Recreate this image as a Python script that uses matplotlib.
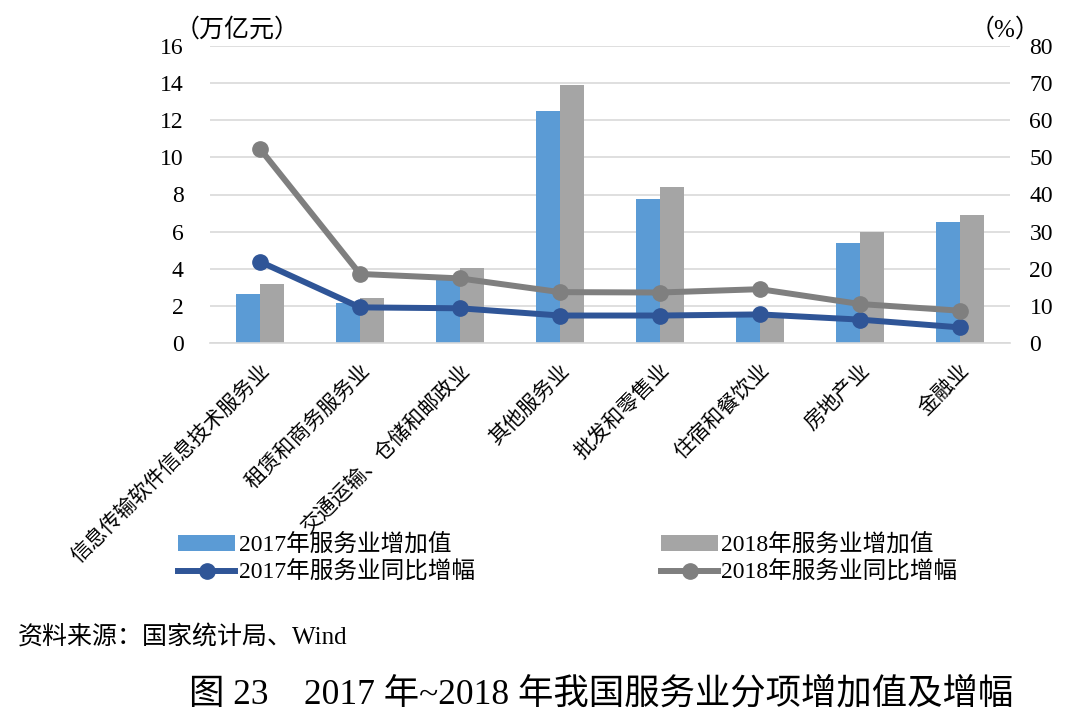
import numpy as np
import matplotlib.pyplot as plt

plt.rcParams['font.family'] = ['Liberation Serif', 'Noto Sans CJK SC']

categories = ['信息传输软件信息技术服务业', '租赁和商务服务业', '交通运输、仓储和邮政业',
              '其他服务业', '批发和零售业', '住宿和餐饮业', '房地产业', '金融业']
value_2017 = [2.62, 2.17, 3.6, 12.52, 7.74, 1.5, 5.37, 6.5]
value_2018 = [3.2, 2.4, 4.02, 13.9, 8.39, 1.6, 5.98, 6.9]
growth_2017 = [21.9, 9.6, 9.35, 7.4, 7.4, 7.7, 6.3, 4.2]
growth_2018 = [52.3, 18.6, 17.4, 13.7, 13.6, 14.5, 10.5, 8.7]

fig = plt.figure(figsize=(10.8, 7.21), dpi=100)
ax = fig.add_axes([210/1080, 1-343/721, 800/1080, 297/721])
ax2 = ax.twinx()

x = np.arange(len(categories))
w = 0.24
b1 = ax.bar(x - w/2, value_2017, w, color='#5B9BD5', label='2017年服务业增加值', zorder=2)
b2 = ax.bar(x + w/2, value_2018, w, color='#A5A5A5', label='2018年服务业增加值', zorder=2)
l1, = ax2.plot(x, growth_2017, color='#2F5597', lw=4.3, marker='o', ms=11,
               label='2017年服务业同比增幅', zorder=3)
l2, = ax2.plot(x, growth_2018, color='#7F7F7F', lw=4.3, marker='o', ms=11,
               label='2018年服务业同比增幅', zorder=3)

ax.set_xlim(-0.5, 7.5)
ax.set_ylim(0, 16)
ax.set_yticks(np.arange(0, 17, 2))
ax2.set_ylim(0, 80)
ax2.set_yticks(np.arange(0, 81, 10))
ax.yaxis.grid(True, color='#D9D9D9', lw=1.2, zorder=0)
ax.set_axisbelow(True)
for a in (ax, ax2):
    for s in a.spines.values():
        s.set_visible(False)
    a.tick_params(length=0, labelsize=17)
ax.spines['bottom'].set_visible(True)
ax.spines['bottom'].set_color('#D9D9D9')
ax.spines['bottom'].set_linewidth(1.2)
ax.tick_params(axis='y', pad=19)
ax2.tick_params(axis='y', pad=14)
ax.set_xticks(x)
ax.set_xticklabels(categories, rotation=45, ha='right', rotation_mode='anchor', fontsize=15)
ax.tick_params(axis='x', pad=13)

fig.text(175/1080, 1-30/721, '（万亿元）', fontsize=18, va='center')
fig.text(970/1080, 1-30/721, '（%）', fontsize=18, va='center')

fig.legend([b1, l1, b2, l2], [b1.get_label(), l1.get_label(), b2.get_label(), l2.get_label()],
           ncol=2, loc='center', bbox_to_anchor=(568/1080, 1-559/721), frameon=False,
           fontsize=17, handlelength=2.4, columnspacing=7.9, handletextpad=0.15,
           labelspacing=0.22)

fig.text(18/1080, 1-638/721, '资料来源：国家统计局、Wind', fontsize=18, va='center')
fig.text(601/1080, 1-695/721, '图 23    2017 年~2018 年我国服务业分项增加值及增幅',
         fontsize=25.5, va='center', ha='center')

fig.savefig('out.png', dpi=100)
